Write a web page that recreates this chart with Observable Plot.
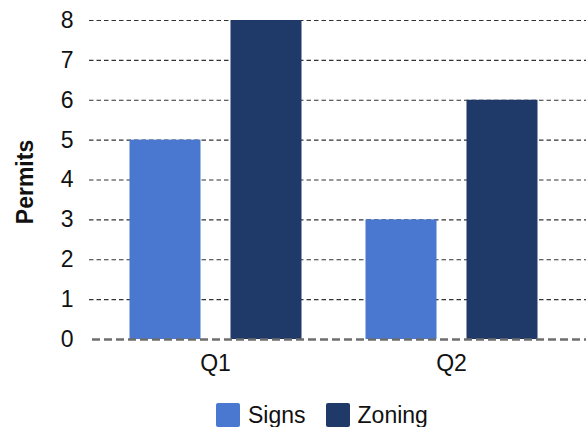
<!DOCTYPE html>
<html><head><meta charset="utf-8">
<script src="https://cdn.jsdelivr.net/npm/d3@7"></script>
<script src="https://cdn.jsdelivr.net/npm/@observablehq/plot@0.6"></script>
<style>
body{margin:0;background:#fff;font-family:"Liberation Sans",Arial,sans-serif;}
#legend{display:flex;justify-content:flex-start;align-items:center;font-size:23px;line-height:24px;color:#111;margin-top:18px;padding-left:216px;}
.item{display:flex;align-items:center;margin-right:20px;}
.sw{width:24px;height:24px;border-radius:2px;margin-right:8px;}
</style></head>
<body><div id="chart"></div><div id="legend"></div>
<script>
const quarters = ["Q1", "Q2"];
const series = ["Signs", "Zoning"];
const signs = [5, 3];
const zoning = [8, 6];
const yTicks = [0, 1, 2, 3, 4, 5, 6, 7, 8];
const colors = ["#4a78d0", "#1f3968"];

const signsData = quarters.map((q, i) => ({q, v: signs[i]}));
const zoningData = quarters.map((q, i) => ({q, v: zoning[i]}));

const plot = Plot.plot({
  width: 586, height: 385,
  marginLeft: 97, marginRight: 17, marginTop: 20, marginBottom: 46,
  style: {fontFamily: '"Liberation Sans", Arial, sans-serif', fontSize: "23px", color: "#111", overflow: "visible"},
  x: {domain: quarters, padding: 0, label: null},
  y: {domain: [0, 8], label: null},
  marks: [
    Plot.ruleY(yTicks.filter(d => d > 0), {stroke: "#333", strokeWidth: 1.2, strokeDasharray: "4.5,3", insetLeft: -8, insetRight: -17}),
    Plot.barY(signsData, {x: "q", y: "v", fill: colors[0], insetLeft: 32.5, insetRight: 132.5}),
    Plot.barY(zoningData, {x: "q", y: "v", fill: colors[1], insetLeft: 133.5, insetRight: 31.5}),
    Plot.ruleY([0], {stroke: "#6e6e6e", strokeWidth: 2.5, strokeDasharray: "8,4", insetLeft: -5, insetRight: -17}),
    Plot.axisY({ticks: yTicks, tickSize: 0, tickPadding: 24, tickFormat: d => d, label: null, fontSize: 23}),
    Plot.axisX({tickSize: 0, tickPadding: 15, label: null, fontSize: 23}),
    Plot.text(["Permits"], {frameAnchor: "left", textAnchor: "middle", rotate: -90, dx: -72, dy: 2, fontWeight: "bold", fontSize: 23, fill: "#111"})
  ]
});
document.getElementById("chart").appendChild(plot);

const lg = document.getElementById("legend");
series.forEach((s, i) => {
  const it = document.createElement("div"); it.className = "item";
  const sw = document.createElement("div"); sw.className = "sw"; sw.style.background = colors[i];
  const t = document.createElement("span"); t.textContent = s;
  it.appendChild(sw); it.appendChild(t); lg.appendChild(it);
});
</script></body></html>
